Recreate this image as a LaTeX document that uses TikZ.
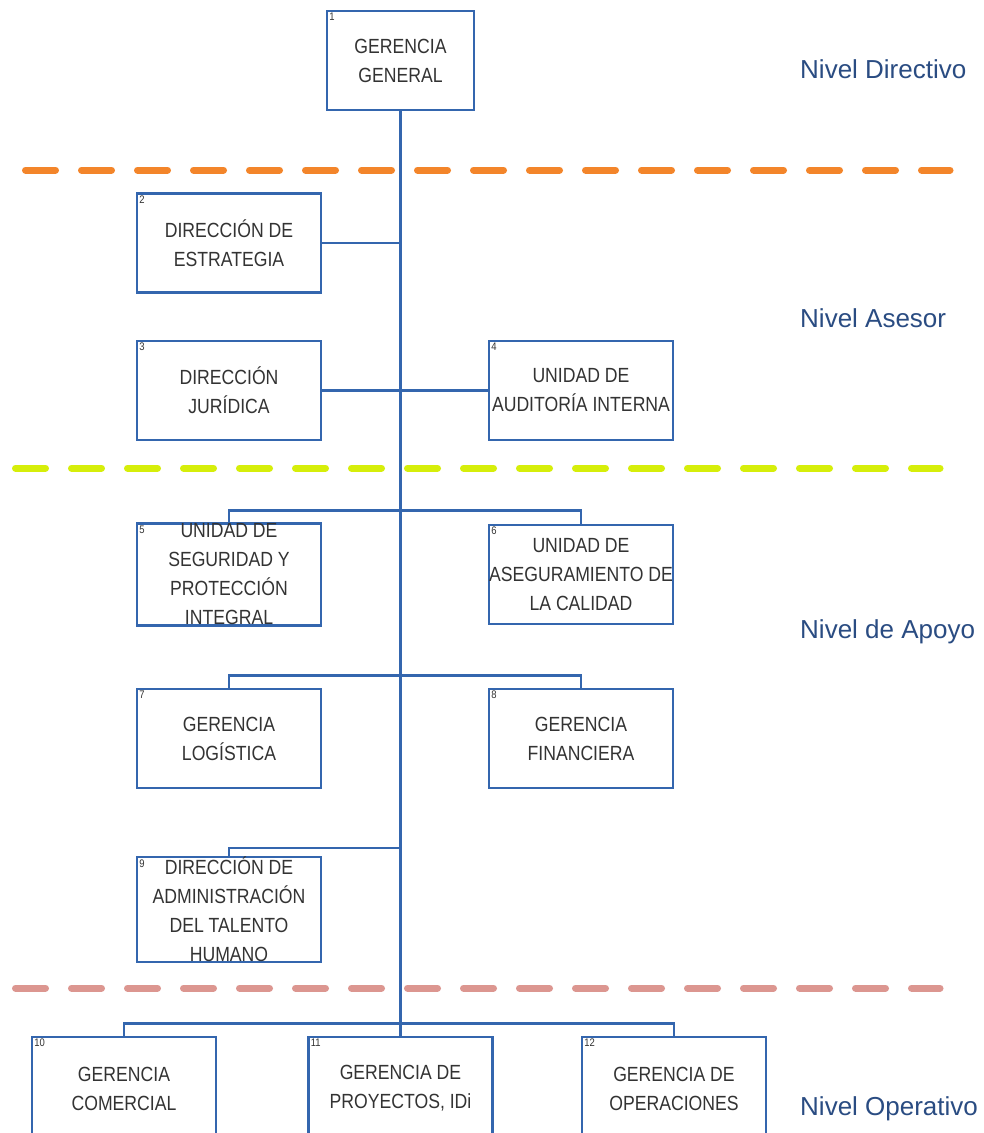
\documentclass[tikz,border=0pt]{standalone}
\usepackage{fontspec}
\setmainfont{Liberation Sans}
\newfontfamily\boxfont{Liberation Sans}[FakeStretch=0.86]
\definecolor{lineblue}{HTML}{3466AE}
\definecolor{nivelblue}{HTML}{2A4C82}
\definecolor{dashorange}{HTML}{F3852A}
\definecolor{dashlime}{HTML}{D6EE0A}
\definecolor{dashpink}{HTML}{DC9690}
\tikzset{
  unit/.style={draw=lineblue, line width=2.8pt, fill=white, minimum width=184pt,
    minimum height=99pt, inner sep=0pt, align=center,
    font=\boxfont\fontsize{20.5}{29}\selectfont, text=black!80},
  link/.style={draw=lineblue, line width=2.8pt},
  sepline/.style={line width=7pt, line cap=round, dash pattern=on 30pt off 26pt},
  nivel/.style={font=\fontsize{26}{30}\selectfont, text=nivelblue, anchor=base west, inner sep=0pt},
  num/.style={anchor=north west, inner sep=3.5pt, font=\boxfont\fontsize{11}{12}\selectfont, text=black!80}
}
\begin{document}
\begin{tikzpicture}[x=1pt,y=-1pt]
\useasboundingbox (0,0) rectangle (984,1133);
\clip (0,0) rectangle (984,1133);
\fill[white] (0,0) rectangle (984,1133);

% separators
\draw[sepline, dashorange] (25.5,170) -- (950,170);
\draw[sepline, dashlime] (15.5,468) -- (940,468);
\draw[sepline, dashpink] (15.5,988) -- (940,988);

% boxes
\node[unit, minimum width=147pt, label={[num]north west:1}] (b1) at (400.5,60.5) {GERENCIA\\GENERAL};
\node[unit, label={[num]north west:2}] (b2) at (229,243) {DIRECCIÓN DE\\ESTRATEGIA};
\node[unit, label={[num]north west:3}] (b3) at (229,390.5) {DIRECCIÓN\\JURÍDICA};
\node[unit, label={[num]north west:4}] (b4) at (581,390.5) {UNIDAD DE\\AUDITORÍA INTERNA};
\node[unit, label={[num]north west:5}] (b5) at (229,574.5) {UNIDAD DE\\SEGURIDAD Y\\PROTECCIÓN\\INTEGRAL};
\node[unit, label={[num]north west:6}] (b6) at (581,574.5) {UNIDAD DE\\ASEGURAMIENTO DE\\LA CALIDAD};
\node[unit, label={[num]north west:7}] (b7) at (229,738.5) {GERENCIA\\LOGÍSTICA};
\node[unit, label={[num]north west:8}] (b8) at (581,738.5) {GERENCIA\\FINANCIERA};
\node[unit, label={[num]north west:9}] (b9) at (229,909.5) {DIRECCIÓN DE\\ADMINISTRACIÓN\\DEL TALENTO\\HUMANO};
\node[unit, minimum height=103pt, label={[num]north west:10}] (b10) at (124,1088.5) {GERENCIA\\COMERCIAL};
\node[unit, minimum height=103pt, label={[num]north west:11}] (b11) at (400.5,1088.5) {GERENCIA DE\\PROYECTOS, IDi};
\node[unit, minimum height=103pt, label={[num]north west:12}] (b12) at (674,1088.5) {GERENCIA DE\\OPERACIONES};

% connectors
\coordinate (t9) at (400.5,848);
\draw[link] (b1.south) -- (b11.north);
\draw[link] (b2.east) -- (b2.east -| b1.south);
\draw[link] (b3.east) -- (b4.west);
\draw[link] (b5.north) -- ++(0,-12) -| (b6.north);
\draw[link] (b7.north) -- ++(0,-12) -| (b8.north);
\draw[link] (b9.north) |- (t9);
\draw[link] (b10.north) -- ++(0,-12) -| (b12.north);

% level labels
\node[nivel] (n1) at (800,78) {Nivel Directivo};
\node[nivel] (n2) at (800,327) {Nivel Asesor};
\node[nivel] (n3) at (800,638) {Nivel de Apoyo};
\node[nivel] (n4) at (800,1115) {Nivel Operativo};
\end{tikzpicture}
\end{document}
